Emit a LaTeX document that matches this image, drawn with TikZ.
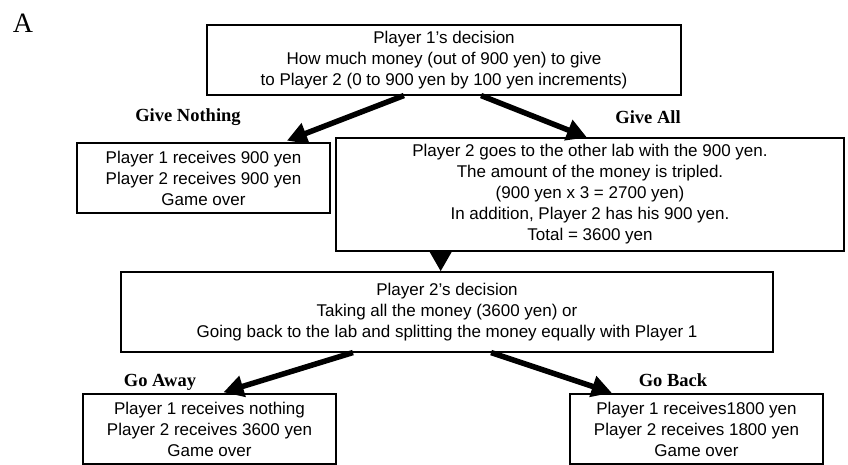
\documentclass[tikz,border=0pt]{standalone}
\usepackage{fontspec}
\setmainfont{Liberation Serif}
\newfontfamily\boxfont{Liberation Sans}
\usetikzlibrary{arrows.meta,calc}
\tikzset{
  box/.style={draw=black, line width=1.1pt, rectangle, inner sep=0pt, align=center,
    font=\boxfont\fontsize{17}{21}\selectfont},
  lab/.style={font=\fontsize{18.5}{22}\selectfont\bfseries, inner sep=0pt},
  bigarrow/.style={line width=5.5pt, -{Triangle[length=20pt,width=21pt]}}
}
\begin{document}
\begin{tikzpicture}[x=1pt,y=-1pt]
\useasboundingbox (0,0) rectangle (848,465);
\node[font=\fontsize{28}{30}\selectfont, inner sep=0pt] (A) at (23,23) {A};
\node[box, minimum width=474pt, minimum height=70pt] (p1) at (444,60)
  {Player 1’s decision\\How much money (out of 900 yen) to give\\to Player 2 (0 to 900 yen by 100 yen increments)};
\node[box, minimum width=253pt, minimum height=70pt] (r1) at (203.5,178)
  {Player 1 receives 900 yen\\Player 2 receives 900 yen\\Game over};
\node[box, minimum width=508pt, minimum height=113pt] (r2) at (590,194.5)
  {Player 2 goes to the other lab with the 900 yen.\\The amount of the money is tripled.\\(900 yen x 3 = 2700 yen)\\In addition, Player 2 has his 900 yen.\\Total = 3600 yen};
\node[box, minimum width=652pt, minimum height=80pt] (p2) at (447,312)
  {Player 2’s decision\\Taking all the money (3600 yen) or\\Going back to the lab and splitting the money equally with Player 1};
\node[box, minimum width=253pt, minimum height=70pt] (bl) at (209.5,429)
  {Player 1 receives nothing\\Player 2 receives 3600 yen\\Game over};
\node[box, minimum width=253pt, minimum height=70pt] (br) at (696.5,429)
  {Player 1 receives1800 yen\\Player 2 receives 1800 yen\\Game over};
\node[lab] (l1) at (188,117) {Give Nothing};
\node[lab] (l2) at (648,117) {Give All};
\node[lab] (l3) at (160,382) {Go Away};
\node[lab] (l4) at (673,380) {Go Back};
\draw[bigarrow, shorten >=5pt] ($(p1.south west)!0.4156!(p1.south east)$) -- ($(r1.north west)!0.81!(r1.north east)$);
\draw[bigarrow] ($(p1.south west)!0.578!(p1.south east)$) -- ($(r2.north west)!0.494!(r2.north east)$);
\coordinate (d1) at ($(r2.south west)!0.2067!(r2.south east)$);
\draw[bigarrow] (d1) -- (d1 |- p2.north);
\draw[bigarrow, shorten >=4pt] ($(p2.south west)!0.356!(p2.south east)$) -- ($(bl.north west)!0.54!(bl.north east)$);
\draw[bigarrow, shorten >=2pt] ($(p2.south west)!0.5675!(p2.south east)$) -- ($(br.north west)!0.174!(br.north east)$);
\end{tikzpicture}
\end{document}
